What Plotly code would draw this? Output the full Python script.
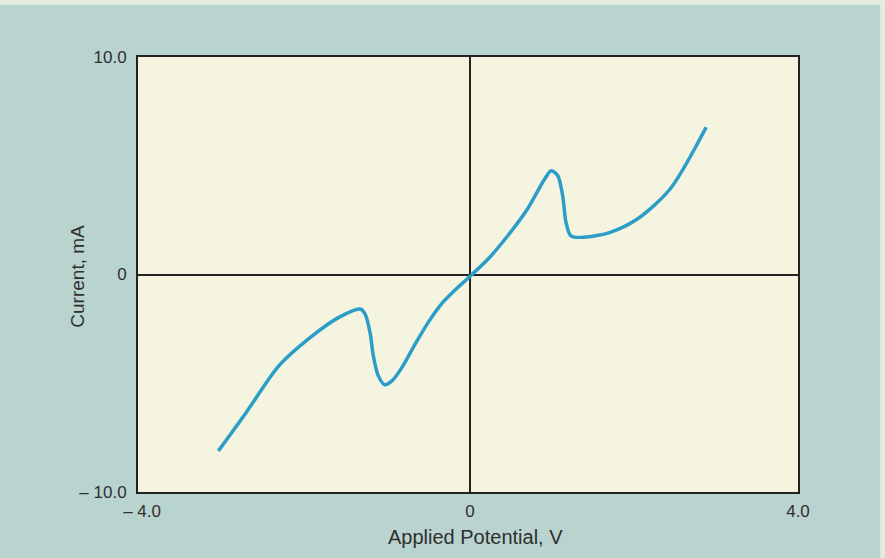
import plotly.graph_objects as go

# Data
potential_v = [-3.07, -2.73, -2.33, -1.92, -1.60, -1.34, -1.28, -1.22, -1.18,
               -1.12, -1.04, -0.95, -0.83, -0.67, -0.51, -0.35, -0.19, 0.0, 0.22,
               0.46, 0.70, 0.91, 0.99, 1.07, 1.13, 1.17, 1.23, 1.39, 1.71,
               2.04, 2.44, 2.88]
current_ma = [-8.11, -6.34, -4.19, -2.81, -1.97, -1.59, -1.82, -2.66, -3.73,
              -4.65, -5.07, -4.88, -4.27, -3.20, -2.20, -1.36, -0.74, -0.08, 0.71,
              1.78, 3.01, 4.39, 4.77, 4.54, 3.62, 2.40, 1.78, 1.71, 1.94,
              2.55, 3.93, 6.77]

x_tickvals = [-4, 0, 4]
x_ticktext = ["\u2013 4.0", "0", "4.0"]
y_tickvals = [-10, 0, 10]
y_ticktext = ["\u2013 10.0", "0", "10.0"]

x_title = "Applied Potential, V"
y_title = "Current, mA"

font_family = "Liberation Sans, Arial, sans-serif"
ink = "#2f2f2f"
paper = "#b9d3cf"

fig = go.Figure()
fig.add_trace(go.Scatter(
    x=potential_v, y=current_ma, mode="lines",
    line=dict(color="#2b9dc6", width=3.5, shape="spline", smoothing=0.8),
    hoverinfo="skip", showlegend=False,
))

fig.update_layout(
    width=885, height=558,
    margin=dict(l=138, r=87, t=57, b=66, autoexpand=False),
    paper_bgcolor=paper,
    plot_bgcolor="#f4f4e1",
    font=dict(family=font_family, color=ink, size=17),
    showlegend=False,
    xaxis=dict(
        range=[-4.05, 4.0], tickvals=x_tickvals, ticktext=x_ticktext,
        showgrid=False, zeroline=True, zerolinecolor="#222", zerolinewidth=1.5,
        showline=True, mirror=True, linecolor="#222", linewidth=2,
        ticks="", tickfont=dict(size=17, color=ink), ticklabelstandoff=3,
    ),
    yaxis=dict(
        range=[-10, 10], tickvals=y_tickvals, ticktext=y_ticktext,
        showgrid=False, zeroline=True, zerolinecolor="#222", zerolinewidth=1.5,
        showline=True, mirror=True, linecolor="#222", linewidth=2,
        ticks="", tickfont=dict(size=17, color=ink), ticklabelstandoff=6,
    ),
    annotations=[
        dict(text=x_title, xref="paper", yref="paper", x=0.512, y=-0.1034,
             xanchor="center", yanchor="middle", showarrow=False,
             font=dict(size=20, color=ink)),
        dict(text=y_title, xref="paper", yref="paper", x=-0.0909, y=0.495,
             xanchor="center", yanchor="middle", textangle=-90, showarrow=False,
             font=dict(size=19, color=ink)),
    ],
    shapes=[
        dict(type="rect", xref="paper", yref="paper", x0=-0.3, x1=1.3,
             y0=1.12, y1=1.3, fillcolor="#e4ecdf", line_width=0, layer="below"),
        dict(type="rect", xref="paper", yref="paper", x0=1.1245, x1=1.3,
             y0=-0.3, y1=1.3, fillcolor="#e4ecdf", line_width=0, layer="below"),
    ],
)

fig.write_html(
    "out.html",
    config={"displayModeBar": False},
    post_script="document.body.style.margin='0';document.body.style.background='%s';" % paper,
)
